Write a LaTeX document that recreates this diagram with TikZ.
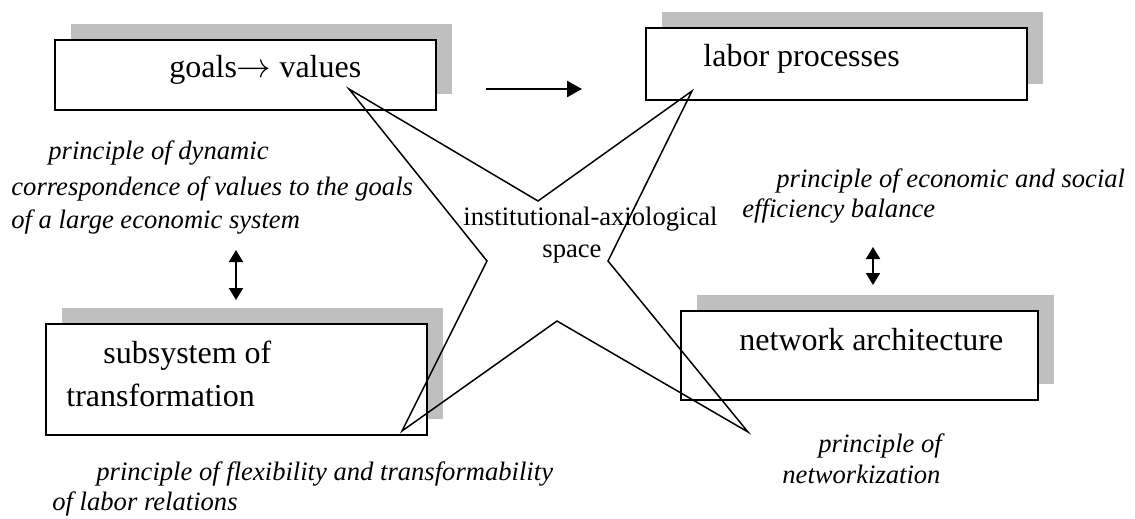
\documentclass[tikz,border=0pt]{standalone}
\usepackage{fontspec}
\setmainfont{Liberation Serif}[ItalicFont={Liberation Serif Italic}]
\usetikzlibrary{arrows.meta,shadows}

\begin{document}
\begin{tikzpicture}[x=0.5pt, y=-0.5pt,
    box/.style={draw, line width=1pt, fill=white, inner sep=0pt, anchor=north west,
      drop shadow={shadow xshift=8pt, shadow yshift=8pt, fill=gray!50, opacity=1}},
    boxtext/.style={anchor=base west, inner sep=0pt, font=\fontsize{16}{19}\selectfont},
    principle/.style={anchor=base west, inner sep=0pt, font=\fontsize{13.3}{16}\selectfont\itshape},
    startext/.style={anchor=base west, inner sep=0pt, font=\fontsize{13.3}{16}\selectfont},
    both/.style={{Triangle[length=6pt,width=7pt]}-{Triangle[length=6pt,width=7pt]}, line width=1pt}]
  \useasboundingbox (0,0) rectangle (1135,519);

  % boxes
  \node[box, minimum width=190.5pt, minimum height=35pt] (goals) at (54,39) {};
  \node[box, minimum width=190.5pt, minimum height=36pt] (labor) at (645,27) {};
  \node[box, minimum width=190.5pt, minimum height=55.5pt] (subsys) at (45,323) {};
  \node[box, minimum width=178.5pt, minimum height=44.5pt] (network) at (680,310) {};

  \node[boxtext] (goalstext) at (169,78) {goals$\rightarrow$ values};
  \node[boxtext] (labortext) at (703,67) {labor processes};
  \node[boxtext] (subsystext) at (103,363) {subsystem of};
  \node[boxtext] (transftext) at (66,406) {transformation};
  \node[boxtext] (networktext) at (739,350) {network architecture};

  % star
  \draw[line width=0.75pt] (349,89) -- (538,201) -- (692,91) -- (608,261) -- (748,432)
    -- (557,321) -- (402,431) -- (487,261) -- cycle;
  \node[startext] (space1) at (463,225) {institutional-axiological};
  \node[startext] (space2) at (542,257) {space};

  % arrows
  \coordinate (arrA) at (486,89);
  \coordinate (arrB) at (582,89);
  \draw[-{Triangle[length=7.5pt,width=8pt]}, line width=1.3pt] (arrA) -- (arrB);
  \coordinate (leftA) at (236,250);
  \coordinate (leftB) at (236,300);
  \draw[both] (leftA) -- (leftB);
  \coordinate (rightA) at (873,247);
  \coordinate (rightB) at (873,285);
  \draw[both] (rightA) -- (rightB);

  % principles
  \node[principle] (dyn1) at (48,160) {principle of dynamic};
  \node[principle] (dyn2) at (11,195) {correspondence of values to the goals};
  \node[principle] (dyn3) at (11,228) {of a large economic system};
  \node[principle] (eco1) at (776,187) {principle of economic and social};
  \node[principle] (eco2) at (742,217) {efficiency balance};
  \node[principle] (flex1) at (96,480) {principle of flexibility and transformability};
  \node[principle] (flex2) at (52,510) {of labor relations};
  \node[principle] (net1) at (818,452) {principle of};
  \node[principle] (net2) at (782,483) {networkization};
\end{tikzpicture}
\end{document}
